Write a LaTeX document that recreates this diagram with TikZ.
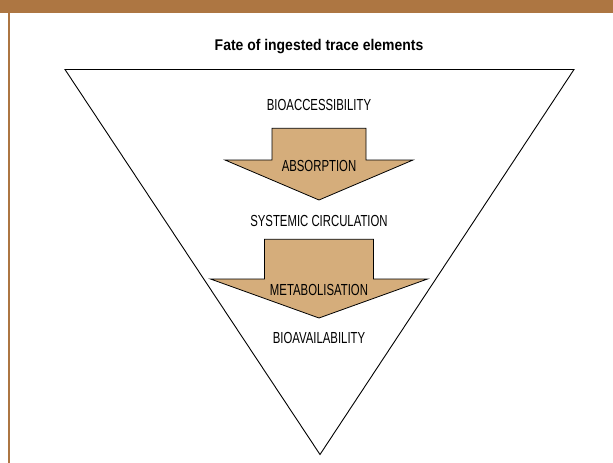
\documentclass[tikz,border=0pt]{standalone}
\usepackage{fontspec}
\setmainfont{Liberation Sans}
\definecolor{zbrun}{RGB}{173,118,66}
\definecolor{zsable}{RGB}{213,173,123}

\begin{document}
\begin{tikzpicture}[x=1pt, y=-1pt, zlab/.style={anchor=base, xscale=.71, font=\fontsize{16}{18}\selectfont}, ztitre/.style={anchor=base, xscale=.9, font=\fontsize{15.5}{18}\selectfont\bfseries}, zfleche/.style={draw=black, fill=zsable, line width=.8pt}]
  \useasboundingbox (0,0) rectangle (613,463);
  % cadre
  \fill[zbrun] (0,0) rectangle (613,12.5);
  \fill[zbrun] (7.5,12) rectangle (10,463);
  % entonnoir
  \draw[line width=.9pt] (65,69.5) -- (574,69.5) -- (320,454.5) -- cycle;
  % fleches : haut/demi-tige/epaule/demi-tete/pointe
  \foreach \t/\s/\w/\h/\p in {128.3/47/160/94/200, 239.3/54.5/279/108.5/318}{\draw[zfleche] (319-\s,\t) -- (319+\s,\t) -- (319+\s,\w) -- (319+\h,\w) -- (319,\p) -- (319-\h,\w) -- (319-\s,\w) -- cycle;}
  \node[ztitre] (titre) at (319,50) {Fate of ingested trace elements};
  \node[zlab] (bioacc) at (319,110.7) {BIOACCESSIBILITY};
  \node[zlab] (absorp) at (319,171.5) {ABSORPTION};
  \node[zlab] (circ) at (319,226) {SYSTEMIC CIRCULATION};
  \node[zlab] (metab) at (319,295) {METABOLISATION};
  \node[zlab] (biodisp) at (319,343) {BIOAVAILABILITY};
\end{tikzpicture}
\end{document}
